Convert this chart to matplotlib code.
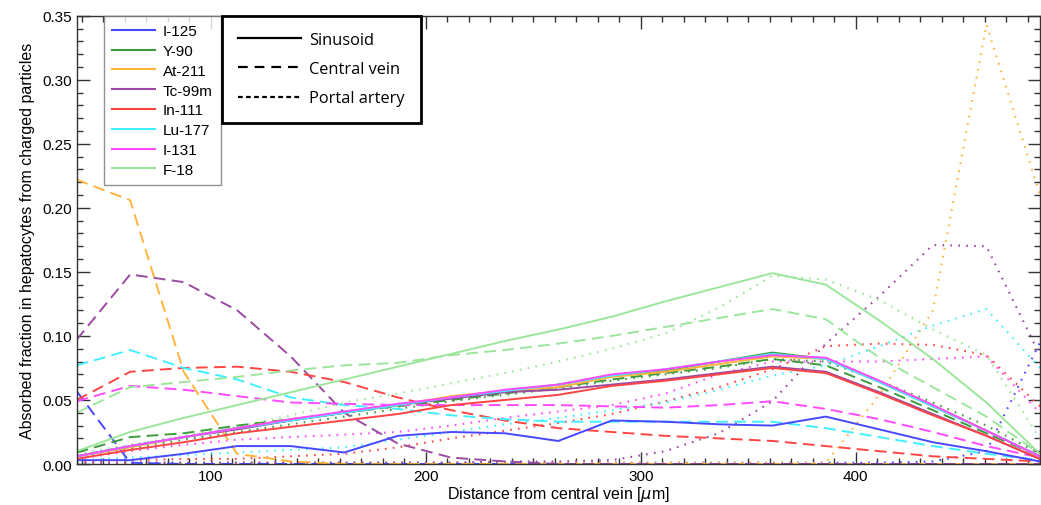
import matplotlib
matplotlib.use("Agg")
import matplotlib.pyplot as plt
from matplotlib.lines import Line2D

plt.rcParams['font.family'] = ['Liberation Sans', 'DejaVu Sans']
plt.rcParams['lines.scale_dashes'] = False

# distance from central vein (um)
distance = [37.5, 62.4, 87.3, 112.2, 137.1, 162.0, 186.9, 211.8, 236.7, 261.6,
            286.5, 311.4, 336.3, 361.2, 386.1, 411.0, 435.9, 460.8, 485.7]

isotopes = ["I-125", "Y-90", "At-211", "Tc-99m", "In-111", "Lu-177", "I-131", "F-18"]
colors = ["#4848ff", "#3c9c3c", "#ffb43c", "#9a4aa2", "#ff4444", "#40f0ff", "#ff4aff", "#9ce69c"]

# Sinusoid (solid)
sinusoid = {
    "I-125":  [0.003, 0.003, 0.008, 0.014, 0.014, 0.009, 0.022, 0.025, 0.024, 0.018, 0.034, 0.033, 0.031, 0.030, 0.037, 0.027, 0.017, 0.010, 0.002],
    "Y-90":   [0.006, 0.014, 0.021, 0.028, 0.034, 0.040, 0.046, 0.052, 0.057, 0.062, 0.069, 0.073, 0.080, 0.087, 0.082, 0.064, 0.045, 0.026, 0.006],
    "At-211": [0.006, 0.013, 0.021, 0.028, 0.035, 0.040, 0.046, 0.053, 0.057, 0.060, 0.068, 0.072, 0.078, 0.084, 0.082, 0.065, 0.046, 0.026, 0.006],
    "Tc-99m": [0.006, 0.014, 0.021, 0.027, 0.034, 0.040, 0.046, 0.051, 0.056, 0.058, 0.062, 0.066, 0.071, 0.076, 0.072, 0.056, 0.039, 0.022, 0.004],
    "In-111": [0.004, 0.011, 0.017, 0.024, 0.029, 0.034, 0.039, 0.046, 0.050, 0.054, 0.061, 0.065, 0.070, 0.075, 0.071, 0.055, 0.038, 0.022, 0.004],
    "Lu-177": [0.006, 0.014, 0.021, 0.028, 0.034, 0.040, 0.046, 0.052, 0.057, 0.062, 0.069, 0.074, 0.080, 0.086, 0.082, 0.064, 0.045, 0.026, 0.006],
    "I-131":  [0.006, 0.014, 0.021, 0.028, 0.035, 0.041, 0.047, 0.052, 0.058, 0.062, 0.070, 0.074, 0.080, 0.085, 0.083, 0.065, 0.046, 0.026, 0.006],
    "F-18":   [0.010, 0.025, 0.036, 0.046, 0.056, 0.066, 0.076, 0.086, 0.096, 0.105, 0.115, 0.127, 0.138, 0.149, 0.140, 0.112, 0.082, 0.048, 0.008],
}

# Central vein (dashed)
central_vein = {
    "I-125":  [0.057, 0.001, 0.000, 0.000, 0.000, 0.000, 0.000, 0.000, 0.000, 0.000, 0.000, 0.000, 0.000, 0.000, 0.000, 0.000, 0.000, 0.000, 0.000],
    "Y-90":   [0.009, 0.021, 0.024, 0.030, 0.035, 0.040, 0.045, 0.050, 0.055, 0.060, 0.066, 0.071, 0.076, 0.082, 0.077, 0.060, 0.042, 0.024, 0.006],
    "At-211": [0.222, 0.206, 0.072, 0.008, 0.002, 0.000, 0.000, 0.000, 0.000, 0.000, 0.000, 0.000, 0.000, 0.000, 0.000, 0.000, 0.000, 0.000, 0.000],
    "Tc-99m": [0.097, 0.148, 0.142, 0.120, 0.084, 0.040, 0.016, 0.005, 0.002, 0.000, 0.000, 0.000, 0.000, 0.000, 0.000, 0.000, 0.000, 0.000, 0.000],
    "In-111": [0.050, 0.072, 0.075, 0.076, 0.072, 0.064, 0.052, 0.042, 0.034, 0.028, 0.025, 0.022, 0.020, 0.018, 0.014, 0.010, 0.006, 0.004, 0.002],
    "Lu-177": [0.077, 0.089, 0.075, 0.066, 0.052, 0.046, 0.043, 0.038, 0.035, 0.033, 0.033, 0.033, 0.033, 0.033, 0.028, 0.021, 0.014, 0.008, 0.003],
    "I-131":  [0.049, 0.061, 0.058, 0.053, 0.048, 0.047, 0.046, 0.046, 0.046, 0.046, 0.045, 0.044, 0.046, 0.049, 0.043, 0.035, 0.025, 0.014, 0.005],
    "F-18":   [0.040, 0.060, 0.064, 0.068, 0.073, 0.077, 0.079, 0.085, 0.089, 0.094, 0.100, 0.107, 0.114, 0.121, 0.113, 0.083, 0.060, 0.037, 0.008],
}

# Portal artery (dotted)
portal_artery = {
    "I-125":  [0.001, 0.001, 0.001, 0.001, 0.001, 0.001, 0.001, 0.001, 0.001, 0.001, 0.001, 0.001, 0.001, 0.001, 0.001, 0.001, 0.002, 0.010, 0.095],
    "Y-90":   [0.006, 0.012, 0.019, 0.025, 0.031, 0.037, 0.043, 0.049, 0.054, 0.059, 0.065, 0.070, 0.075, 0.082, 0.080, 0.065, 0.048, 0.030, 0.008],
    "At-211": [0.001, 0.001, 0.001, 0.001, 0.001, 0.001, 0.001, 0.001, 0.001, 0.001, 0.001, 0.001, 0.001, 0.001, 0.001, 0.054, 0.120, 0.343, 0.210],
    "Tc-99m": [0.001, 0.001, 0.001, 0.001, 0.001, 0.001, 0.001, 0.001, 0.002, 0.002, 0.003, 0.010, 0.024, 0.049, 0.094, 0.131, 0.171, 0.170, 0.085],
    "In-111": [0.002, 0.003, 0.004, 0.004, 0.006, 0.008, 0.013, 0.020, 0.026, 0.032, 0.039, 0.049, 0.060, 0.074, 0.092, 0.094, 0.093, 0.085, 0.045],
    "Lu-177": [0.003, 0.005, 0.007, 0.009, 0.011, 0.013, 0.019, 0.025, 0.031, 0.036, 0.042, 0.048, 0.058, 0.069, 0.077, 0.092, 0.108, 0.121, 0.075],
    "I-131":  [0.004, 0.010, 0.015, 0.019, 0.021, 0.023, 0.025, 0.030, 0.036, 0.041, 0.046, 0.055, 0.070, 0.080, 0.080, 0.080, 0.082, 0.084, 0.040],
    "F-18":   [0.008, 0.015, 0.022, 0.029, 0.038, 0.048, 0.055, 0.063, 0.071, 0.080, 0.090, 0.102, 0.122, 0.147, 0.144, 0.128, 0.105, 0.085, 0.020],
}

vessel_labels = ["Sinusoid", "Central vein", "Portal artery"]

fig = plt.figure(figsize=(10.41, 5.06), dpi=100)
ax = fig.add_axes([0.0736, 0.081, 0.9254, 0.886])

dash_style = (0, (8.5, 4.5))
dot_style = (0, (1.2, 4.5))

for name, col in zip(isotopes, colors):
    ax.plot(distance, portal_artery[name], color=col, lw=1.5, linestyle=dot_style)
for name, col in zip(isotopes, colors):
    ax.plot(distance, central_vein[name], color=col, lw=1.4, linestyle=dash_style)
for name, col in zip(isotopes, colors):
    ax.plot(distance, sinusoid[name], color=col, lw=1.4, linestyle='-')

ax.set_xlim(37.5, 485.7)
ax.set_ylim(0, 0.35)
ax.set_xticks([100, 200, 300, 400])
ax.set_xticks(range(40, 486, 10), minor=True)
ax.set_yticks([0, 0.05, 0.10, 0.15, 0.20, 0.25, 0.30, 0.35])
ax.set_yticklabels(["0.00", "0.05", "0.10", "0.15", "0.20", "0.25", "0.30", "0.35"])
ax.set_yticks([i * 0.01 for i in range(36)], minor=True)
ax.tick_params(which='both', direction='in', top=True, right=True, labelsize=11, width=1.0, color='#333333')
ax.tick_params(which='major', length=9)
ax.tick_params(which='minor', length=4.5)
for s in ax.spines.values():
    s.set_linewidth(1.0)
    s.set_color('#333333')

ax.set_xlabel(r"Distance from central vein [$\mu$m]", fontsize=11.5, labelpad=1)
ax.set_ylabel("Absorbed fraction in hepatocytes from charged particles", fontsize=11.5, labelpad=5)

# legend 1: isotopes
handles1 = [Line2D([], [], color=c, lw=1.5) for c in colors]
leg1 = ax.legend(handles1, isotopes, loc='upper left', bbox_to_anchor=(0.0284, 1.0),
                 fontsize=11, frameon=True, fancybox=False, borderaxespad=0,
                 handlelength=2.8, handletextpad=0.5, labelspacing=0.38, borderpad=0.55)
leg1.get_frame().set_edgecolor('#777777')
leg1.get_frame().set_linewidth(1.0)
ax.add_artist(leg1)

# legend 2: vessel types
handles2 = [Line2D([], [], color='black', lw=1.6, linestyle='-'),
            Line2D([], [], color='black', lw=1.6, linestyle=(0, (7, 5))),
            Line2D([], [], color='black', lw=1.6, linestyle=(0, (3.4, 2.4)))]
leg2 = ax.legend(handles2, vessel_labels, loc='upper left', bbox_to_anchor=(0.151, 1.0),
                 frameon=True, fancybox=False, borderaxespad=0,
                 handlelength=3.8, handletextpad=0.5, labelspacing=0.8, borderpad=1.0,
                 prop={'family': 'Open Sans', 'size': 11.8})
leg2.get_frame().set_edgecolor('black')
leg2.get_frame().set_linewidth(2.0)
leg2.get_frame().set_alpha(1)

fig.savefig("out.png", dpi=100)
